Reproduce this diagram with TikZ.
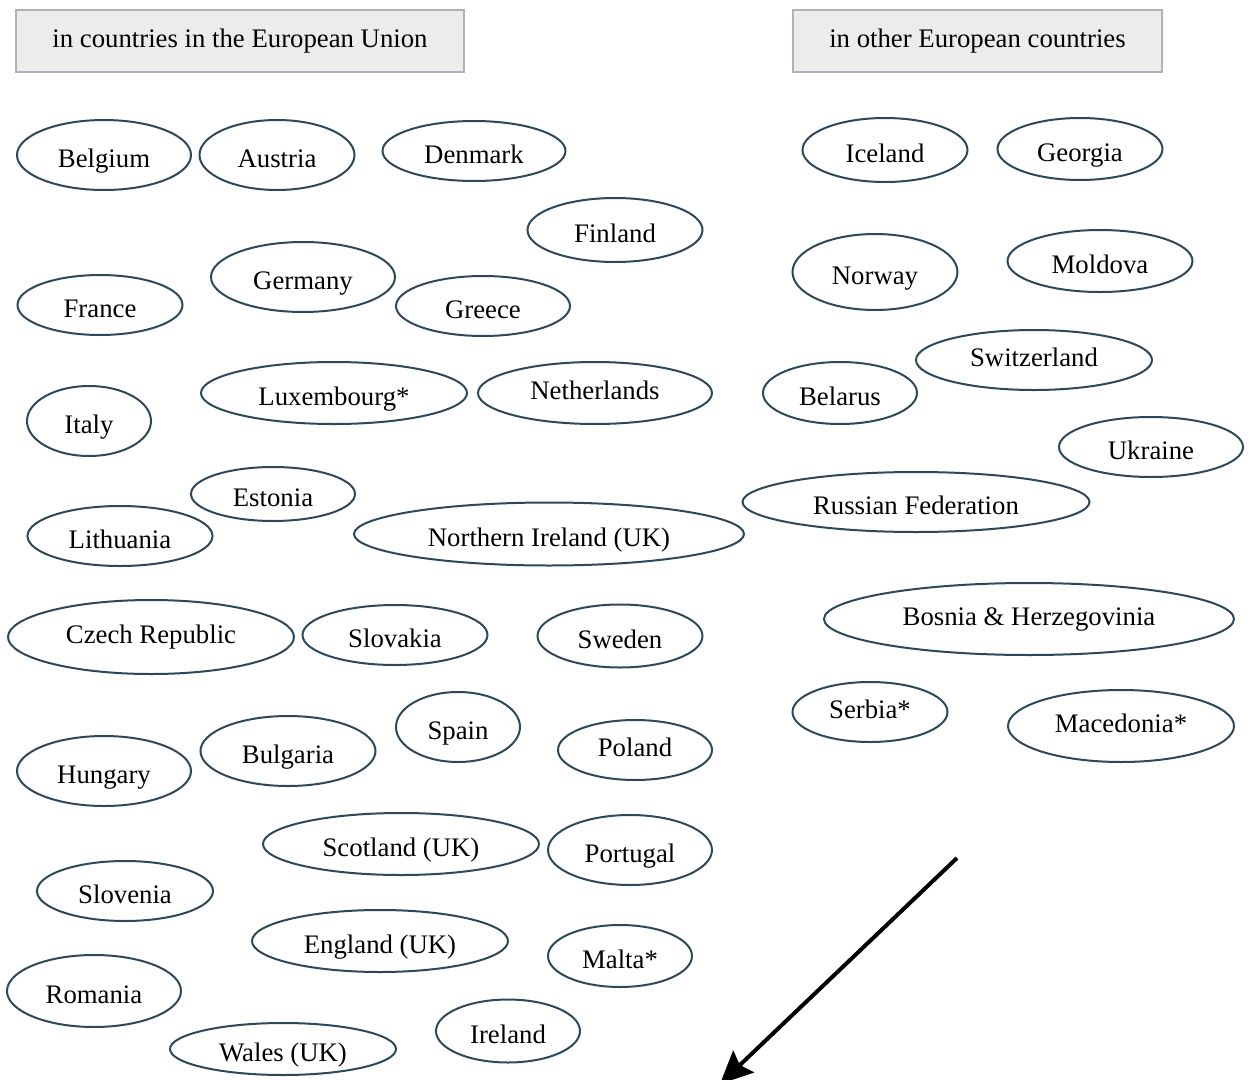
\documentclass[tikz,border=0pt]{standalone}
\usepackage{fontspec}
\setmainfont{Liberation Serif}
\usetikzlibrary{shapes.geometric,arrows.meta}
\definecolor{rim}{RGB}{45,72,88}
\definecolor{hdrfill}{RGB}{236,236,236}
\definecolor{hdrrim}{RGB}{172,180,186}
\tikzset{
	cty/.style 2 args={ellipse, draw=rim, line width=0.8pt, inner sep=0pt,
		text height=10pt, text depth=0.4pt,
		minimum width=#1*0.4pt, minimum height=#2*0.4pt},
	up/.style={text height=5.6pt, text depth=0.4pt},
	hdr/.style 2 args={rectangle, draw=hdrrim, fill=hdrfill, line width=0.8pt,
		inner sep=0pt, minimum width=#1*0.4pt, minimum height=#2*0.4pt}
}
\begin{document}
\begin{tikzpicture}[x=0.4pt, y=-0.4pt, font=\fontsize{10.7}{12}\selectfont]
			\useasboundingbox (0,0) rectangle (1255,1080);
			% headings
			\node[hdr={448}{62}] (eu) at (240,41) {in countries in the European Union};
			\node[hdr={369}{62}] (oth) at (977.5,41) {in other European countries};
			% European Union
			\node[cty={174}{70}] (bel) at (104,155) {Belgium};
			\node[cty={155}{70}] (aut) at (277,155) {Austria};
			\node[cty={183}{60}] (den) at (474,151) {Denmark};
			\node[cty={175}{64}] (fin) at (615,230) {Finland};
			\node[cty={184}{70}] (ger) at (303,277) {Germany};
			\node[cty={165}{60}] (fra) at (100,305) {France};
			\node[cty={174}{60}] (gre) at (483,306) {Greece};
			\node[cty={266}{62}] (lux) at (334,393) {Luxembourg*};
			\node[cty={234}{62}, up] (ned) at (595,393) {Netherlands};
			\node[cty={124}{70}] (ita) at (89,421) {Italy};
			\node[cty={164}{54}] (est) at (273,494) {Estonia};
			\node[cty={185}{60}] (lit) at (120,536) {Lithuania};
			\node[cty={390}{63}] (nir) at (549,534) {Northern Ireland (UK)};
			\node[cty={286}{74}, up] (cze) at (151,637) {Czech Republic};
			\node[cty={185}{60}] (svk) at (395,635) {Slovakia};
			\node[cty={165}{63}] (swe) at (620,636) {Sweden};
			\node[cty={124}{70}] (spa) at (458,727) {Spain};
			\node[cty={175}{70}] (bul) at (288,751) {Bulgaria};
			\node[cty={154}{60}, up] (pol) at (635,750) {Poland};
			\node[cty={174}{70}] (hun) at (104,771) {Hungary};
			\node[cty={276}{62}] (sco) at (401,844) {Scotland (UK)};
			\node[cty={164}{70}] (por) at (630,850) {Portugal};
			\node[cty={176}{60}] (slo) at (125,891) {Slovenia};
			\node[cty={256}{62}] (eng) at (380,941) {England (UK)};
			\node[cty={144}{62}] (mal) at (620,956) {Malta*};
			\node[cty={174}{72}] (rom) at (94,991) {Romania};
			\node[cty={226}{52}] (wal) at (283,1049) {Wales (UK)};
			\node[cty={144}{63}] (ire) at (508,1031) {Ireland};
			% other countries
			\node[cty={165}{64}] (ice) at (885,150) {Iceland};
			\node[cty={165}{62}] (geo) at (1080,149) {Georgia};
			\node[cty={165}{76}] (nor) at (875,272) {Norway};
			\node[cty={185}{62}] (mol) at (1100,261) {Moldova};
			\node[cty={236}{60}, up] (swi) at (1034,360) {Switzerland};
			\node[cty={154}{62}] (bla) at (840,393) {Belarus};
			\node[cty={184}{60}] (ukr) at (1151,447) {Ukraine};
			\node[cty={347}{60}] (rus) at (916,502) {Russian Federation};
			\node[cty={410}{72}, up] (bos) at (1029,619) {Bosnia \& Herzegovinia};
			\node[cty={155}{60}, up] (ser) at (870,712) {Serbia*};
			\node[cty={226}{72}, up] (mac) at (1121,726) {Macedonia*};
			% arrow
			\coordinate (tail) at (957,858);
			\coordinate (head) at (720,1084);
			\draw[line width=1.6pt, -{Stealth[length=13pt, width=12pt, inset=2pt]}] (tail) -- (head);
		\end{tikzpicture}
\end{document}
